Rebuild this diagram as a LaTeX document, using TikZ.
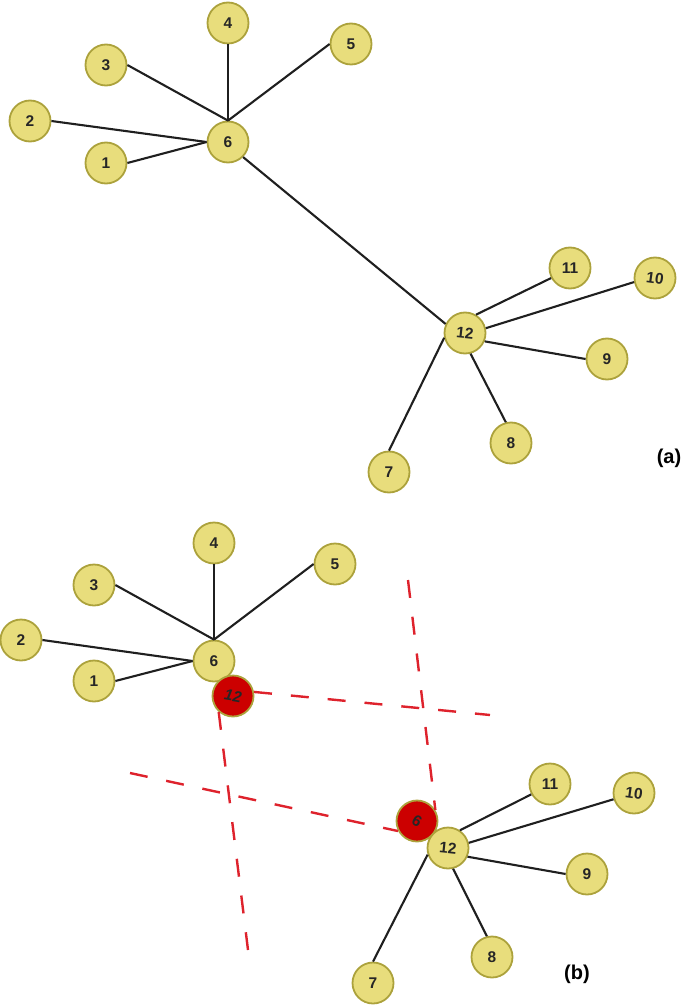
\documentclass[tikz,border=0pt]{standalone}
\usepackage{graphicx}
\usepackage{fontspec}
\setmainfont{Liberation Sans}
\definecolor{nodefill}{RGB}{232,221,124}
\definecolor{nodeedge}{RGB}{172,162,60}
\definecolor{hitfill}{RGB}{204,0,0}
\definecolor{cutred}{RGB}{222,34,44}
\definecolor{txt}{RGB}{38,38,38}
\begin{document}
\begin{tikzpicture}[x=1pt,y=-1pt,
  vert/.style={circle,draw=nodeedge,fill=nodefill,line width=1.8pt,minimum size=41pt,inner sep=0pt,font=\bfseries\fontsize{15.5}{15.5}\selectfont,text=txt},
  hit/.style={vert,fill=hitfill,text=black!85},
  link/.style={line width=2.1pt,black!88},
  cut/.style={cutred,line width=2.4pt,dash pattern=on 18pt off 19pt},
  tag/.style={font=\bfseries\fontsize{20}{20}\selectfont,inner sep=0pt}]
\useasboundingbox (0,0) rectangle (685,1008);

% ---------- (a) ----------
\node[vert] (a4) at (228,23) {4};
\node[vert] (a5) at (351,44) {5};
\node[vert] (a3) at (106,65) {3};
\node[vert] (a2) at (30,121) {2};
\node[vert] (a6) at (228,142) {6};
\node[vert] (a1) at (106,163) {1};
\node[vert] (a12) at (465,333) {\rotatebox{-6}{12}};
\node[vert] (a11) at (570,268) {11};
\node[vert] (a10) at (655,278) {\rotatebox{-8}{10}};
\node[vert] (a9) at (607,359) {9};
\node[vert] (a8) at (511,443) {8};
\node[vert] (a7) at (389,472) {7};
\node[tag] (la) at (669,458) {(a)};

\draw[link] (a3.east) -- (a6.north);
\draw[link] (a4.south) -- (a6.north);
\draw[link] (a5.west) -- (a6.north);
\draw[link] (a2.east) -- (a6.west);
\draw[link] (a1.east) -- (a6.west);
\draw[link] (a6.-45) -- (a12.155);
\draw[link] (a12.59) -- (a11.208);
\draw[link] (a12.13) -- (a10.191);
\draw[link] (a12.-23) -- (a9.west);
\draw[link] (a12.-75) -- (a8.104);
\draw[link] (a12.193) -- (a7.north);

% ---------- (b) ----------
\coordinate (cA) at (490,715);
\coordinate (cB) at (408,580);
\coordinate (cC) at (248,950);
\coordinate (cD) at (130,773);

\node[vert] (b4) at (214,543) {4};
\node[vert] (b5) at (335,564) {5};
\node[vert] (b3) at (94,585) {3};
\node[vert] (b2) at (21,640) {2};
\node[vert] (b6) at (214,661) {6};
\node[vert] (b1) at (94,681) {1};
\node[hit] (r12) at (233,696) {\rotatebox{-10}{\itshape 12}};
\node[hit] (r6) at (417,821) {\rotatebox{-30}{6}};
\node[vert] (b12) at (448,848) {\rotatebox{-6}{12}};
\node[vert] (b11) at (550,784) {11};
\node[vert] (b10) at (634,793) {\rotatebox{-8}{10}};
\node[vert] (b9) at (587,874) {9};
\node[vert] (b8) at (492,957) {8};
\node[vert] (b7) at (373,983) {7};
\node[tag] (lb) at (577,974) {(b)};

\draw[cut] (r12.11) -- (cA);
\draw[cut] (cB) -- (r6.31);
\draw[cut] (r12.228) -- (cC);
\draw[cut] (cD) -- (r6.208);

\draw[link] (b3.east) -- (b6.north);
\draw[link] (b4.south) -- (b6.north);
\draw[link] (b5.west) -- (b6.north);
\draw[link] (b2.east) -- (b6.west);
\draw[link] (b1.east) -- (b6.west);
\draw[link] (b12.56) -- (b11.209);
\draw[link] (b12.14) -- (b10.197);
\draw[link] (b12.-24) -- (b9.west);
\draw[link] (b12.-76) -- (b8.104);
\draw[link] (b12.198) -- (b7.north);
\end{tikzpicture}
\end{document}
